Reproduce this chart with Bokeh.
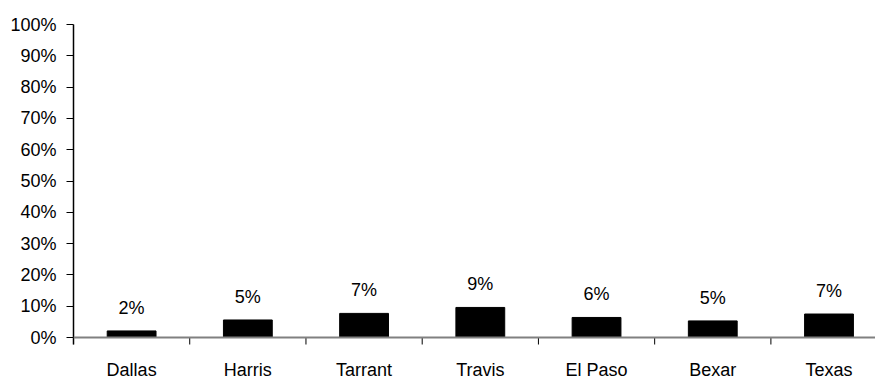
from bokeh.plotting import figure
from bokeh.models import ColumnDataSource, Range1d, FixedTicker, NumeralTickFormatter, LabelSet, Span
from bokeh.core.properties import value
from bokeh.embed import file_html
from bokeh.resources import INLINE

categories = ["Dallas", "Harris", "Tarrant", "Travis", "El Paso", "Bexar", "Texas"]
shares = [0.021, 0.056, 0.077, 0.096, 0.064, 0.053, 0.075]
share_labels = ["2%", "5%", "7%", "9%", "6%", "5%", "7%"]
y_ticks = [0.0, 0.1, 0.2, 0.3, 0.4, 0.5, 0.6, 0.7, 0.8, 0.9, 1.0]

FONT = "Liberation Sans"
FSIZE = "18px"

# layout constants (pixels)
W, H = 875, 379
TOP, BOTTOM_GAP, LEFT = 24, 42, 73
PX_PER_UNIT = (H - TOP - BOTTOM_GAP) / 1.0
y_min = -BOTTOM_GAP / PX_PER_UNIT
tick_len = 7 / PX_PER_UNIT

n = len(categories)
xs = [i + 0.5 for i in range(n)]
src = ColumnDataSource(dict(x=xs, top=shares, lab=share_labels,
                            base=[0] * n, cat=categories))
bounds = list(range(n + 1))
tick_src = ColumnDataSource(dict(x=bounds, y0=[0] * len(bounds), y1=[-tick_len] * len(bounds)))

p = figure(width=W, height=H, output_backend="svg", toolbar_location=None,
           x_range=Range1d(0, 6.9), y_range=Range1d(y_min, 1),
           x_axis_location=None,
           min_border_left=LEFT, min_border_right=0, min_border_top=TOP, min_border_bottom=0)
p.outline_line_color = None
p.grid.grid_line_color = None
p.background_fill_color = "white"
p.border_fill_color = "white"

p.vbar(x="x", top="top", bottom=0, width=0.42, source=src,
       fill_color="black", line_color="black", line_width=1)

# category boundary ticks and the category axis line
p.segment(x0="x", y0="y0", x1="x", y1="y1", source=tick_src, line_color="black", line_width=1)
p.add_layout(Span(location=0, dimension="width", line_color="#808080", line_width=2))

value_labels = LabelSet(x="x", y="top", text="lab", source=src, y_offset=17,
                        text_align="center", text_baseline="alphabetic",
                        text_font=value(FONT), text_font_size=FSIZE, text_color="black")
p.add_layout(value_labels)

p.text(x="x", y="base", text="cat", source=src, y_offset=32,
       text_align="center", text_baseline="middle",
       text_font=value(FONT), text_font_size=value(FSIZE), text_color="black")

# y axis
ya = p.yaxis[0]
ya.ticker = FixedTicker(ticks=y_ticks, minor_ticks=[])
ya.formatter = NumeralTickFormatter(format="0%")
ya.bounds = (-tick_len, 1)
ya.major_tick_out = 7
ya.major_tick_in = 0
ya.major_tick_line_color = "black"
ya.axis_line_color = "black"
ya.axis_line_width = 1.5
ya.major_label_text_font = FONT
ya.major_label_text_font_size = FSIZE
ya.major_label_text_color = "black"
ya.major_label_standoff = 10

open("out.html", "w").write(file_html(p, INLINE))
